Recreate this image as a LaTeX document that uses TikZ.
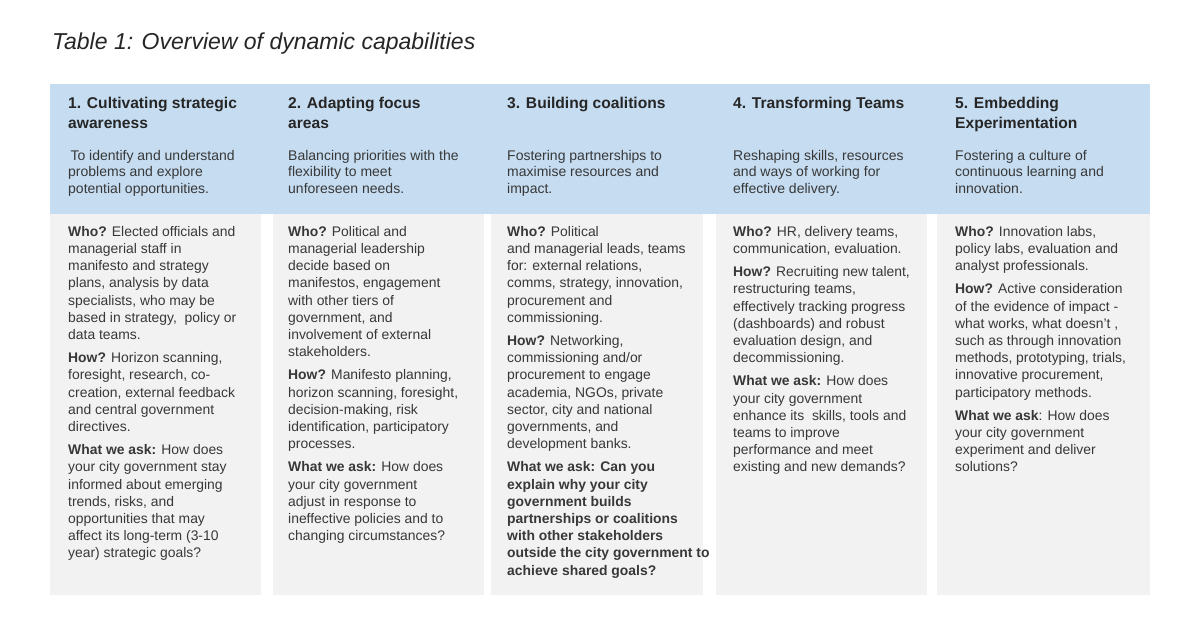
\documentclass[tikz,border=0pt]{standalone}
\usepackage{fontspec}
\setmainfont{Liberation Sans}
\begin{document}
\begin{tikzpicture}[x=1pt,y=-1pt,
  hd/.style={anchor=north west,align=left,inner sep=0pt,font=\fontsize{15.6}{20}\selectfont\bfseries,text=black!85},
  ds/.style={anchor=north west,align=left,inner sep=0pt,font=\fontsize{14}{16.6}\selectfont,text=black!78},
  bd/.style={anchor=north west,align=left,inner sep=0pt,font=\fontsize{13.9}{17.2}\selectfont,text=black!78}]
\useasboundingbox (0,0) rectangle (1200,618);
\fill[white] (0,0) rectangle (1200,618);
\node[anchor=west,inner sep=0pt,font=\fontsize{23}{28}\selectfont\itshape,text=black!85] (title) at (52,44) {Table 1: Overview of dynamic capabilities};
\definecolor{hblue}{RGB}{197,220,241}
\definecolor{cgray}{RGB}{242,242,242}
\fill[cgray] (50,214) rectangle (261,595);
\fill[cgray] (273,214) rectangle (484,595);
\fill[cgray] (491,214) rectangle (703,595);
\fill[cgray] (716,214) rectangle (927,595);
\fill[cgray] (937,214) rectangle (1150,595);
\fill[hblue] (50,84) rectangle (1150,214);
% headers
\node[hd] (h1) at (68,97) {1. Cultivating strategic\\awareness};
\node[hd] (h2) at (288,97) {2. Adapting focus\\areas};
\node[hd] (h3) at (507,97) {3. Building coalitions};
\node[hd] (h4) at (733,97) {4. Transforming Teams};
\node[hd] (h5) at (955,97) {5. Embedding\\Experimentation};
\node[ds] (d1) at (68,150) {\,To identify and understand\\problems and explore\\potential opportunities.};
\node[ds] (d2) at (288,150) {Balancing priorities with the\\flexibility to meet\\unforeseen needs.};
\node[ds] (d3) at (507,150) {Fostering partnerships to\\maximise resources and\\impact.};
\node[ds] (d4) at (733,150) {Reshaping skills, resources\\and ways of working for\\effective delivery.};
\node[ds] (d5) at (955,150) {Fostering a culture of\\continuous learning and\\innovation.};
% bodies
\node[bd] (b1) at (68,226) {\textbf{Who?} Elected officials and\\managerial staff in\\manifesto and strategy\\plans, analysis by data\\specialists, who may be\\based in strategy,\ \ policy or\\data teams.\\[6pt]
\textbf{How?} Horizon scanning,\\foresight, research, co-\\creation, external feedback\\and central government\\directives.\\[6pt]
\textbf{What we ask:} How does\\your city government stay\\informed about emerging\\trends, risks, and\\opportunities that may\\affect its long-term (3-10\\year) strategic goals?};
\node[bd] (b2) at (288,226) {\textbf{Who?} Political and\\managerial leadership\\decide based on\\manifestos, engagement\\with other tiers of\\government, and\\involvement of external\\stakeholders.\\[6pt]
\textbf{How?} Manifesto planning,\\horizon scanning, foresight,\\decision-making, risk\\identification, participatory\\processes.\\[6pt]
\textbf{What we ask:} How does\\your city government\\adjust in response to\\ineffective policies and to\\changing circumstances?};
\node[bd] (b3) at (507,226) {\textbf{Who?} Political\\and managerial leads, teams\\for: external relations,\\comms, strategy, innovation,\\procurement and\\commissioning.\\[6pt]
\textbf{How?} Networking,\\commissioning and/or\\procurement to engage\\academia, NGOs, private\\sector, city and national\\governments, and\\development banks.\\[6pt]
\textbf{What we ask: Can you}\\\textbf{explain why your city}\\\textbf{government builds}\\\textbf{partnerships or coalitions}\\\textbf{with other stakeholders}\\\textbf{outside the city government to}\\\textbf{achieve shared goals?}};
\node[bd] (b4) at (733,226) {\textbf{Who?} HR, delivery teams,\\communication, evaluation.\\[6pt]
\textbf{How?} Recruiting new talent,\\restructuring teams,\\effectively tracking progress\\(dashboards) and robust\\evaluation design, and\\decommissioning.\\[6pt]
\textbf{What we ask:} How does\\your city government\\enhance its\ \ skills, tools and\\teams to improve\\performance and meet\\existing and new demands?};
\node[bd] (b5) at (955,226) {\textbf{Who?} Innovation labs,\\policy labs, evaluation and\\analyst professionals.\\[6pt]
\textbf{How?} Active consideration\\of the evidence of impact -\\what works, what doesn't ,\\such as through innovation\\methods, prototyping, trials,\\innovative procurement,\\participatory methods.\\[6pt]
\textbf{What we ask}: How does\\your city government\\experiment and deliver\\solutions?};
\end{tikzpicture}
\end{document}
